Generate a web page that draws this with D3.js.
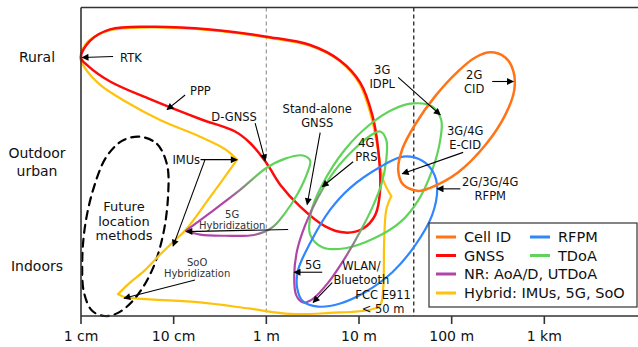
<!DOCTYPE html>
<html><head><meta charset="utf-8">
<script src="https://cdn.jsdelivr.net/npm/d3@7"></script>
<style>body{margin:0;background:#fff}svg{display:block;font-family:"DejaVu Sans",Verdana,sans-serif}</style>
</head><body><svg id="c" width="638" height="347"></svg>
<script>
// ---------- data ----------
const xTicks = [0.01, 0.1, 1, 10, 100, 1000];           // metres
const xTickLabels = ["1 cm", "10 cm", "1 m", "10 m", "100 m", "1 km"];
const yLevels = [0, 1, 2];                                // environment index
const yLevelLabels = [["Indoors"], ["Outdoor", "urban"], ["Rural"]];
const oneMetre = 1;
const fccLimit = 39;

// shapes: [distance in metres, environment index]
const gnssShape = [[0.01,2.0],[0.0125,2.16],[0.0206,2.27],[0.0556,2.295],[0.247,2.27],[1.0,2.20],[2.97,2.12],[6.27,1.97],[10.3,1.76],[13.9,1.45],[16.1,1.12],[16.9,0.73],[15.0,0.49],[11.1,0.36],[7.10,0.32],[4.32,0.38],[2.32,0.57],[1.41,0.78],[1.0,0.99],[0.668,1.18],[0.46,1.29],[0.193,1.41],[0.0556,1.60],[0.0206,1.77],[0.0119,1.92]];
const hybridUpper = [[0.484,1.02],[0.359,1.12],[0.193,1.24],[0.0713,1.40],[0.0299,1.58],[0.016,1.74],[0.011,1.90],[0.0098,2.0],[0.0119,2.155],[0.0206,2.262],[0.0556,2.288],[0.247,2.263],[1.0,2.193],[2.97,2.113],[6.27,1.962],[10.1,1.75],[13.4,1.45],[16.0,1.12],[18.2,0.83],[22.3,0.67]];
const hybridLower = [[22.3,0.67],[19.7,0.54],[18.7,0.25],[18.2,-0.23],[16.9,-0.375],[13.2,-0.42],[4.89,-0.45],[1.81,-0.46],[0.668,-0.41],[0.193,-0.35],[0.0556,-0.32],[0.0299,-0.30],[0.0251,-0.27]];
const hybridInner = [[0.0251,-0.27],[0.0338,-0.16],[0.0491,-0.04],[0.0713,0.11],[0.0986,0.23],[0.136,0.35],[0.247,0.66],[0.484,1.02]];
const cellIdShape = [[261,2.05],[379,2.0],[463,1.87],[474,1.69],[379,1.45],[231,1.16],[118,0.90],[58.7,0.75],[43.6,0.72],[30.0,0.78],[26.5,0.92],[29.3,1.12],[40.5,1.36],[66.5,1.63],[118,1.87],[180,2.0]];
const rfpmShape = [[30.0,1.05],[48.1,1.01],[63.2,0.90],[69.8,0.75],[61.7,0.49],[40.5,0.20],[22.9,-0.06],[11.7,-0.25],[6.27,-0.36],[3.62,-0.39],[2.49,-0.34],[2.15,-0.21],[2.20,-0.04],[2.97,0.22],[4.89,0.54],[8.04,0.75],[16.9,0.95]];
const tdoaShape = [[38.5,1.56],[61.7,1.53],[77.2,1.40],[75.3,1.21],[61.7,0.92],[43.6,0.63],[27.9,0.42],[15.0,0.27],[7.10,0.17],[4.01,0.18],[2.97,0.30],[3.05,0.52],[4.01,0.78],[7.10,1.12],[13.2,1.36],[22.9,1.50]];
const nrTdoaShape = [[16.9,1.29],[19.7,1.21],[19.7,1.02],[17.4,0.78],[13.9,0.56],[10.3,0.33],[7.10,0.08],[4.65,-0.16],[3.13,-0.32],[2.49,-0.35],[2.10,-0.28],[2.0,-0.09],[2.15,0.15],[2.62,0.39],[3.62,0.66],[5.53,0.92],[9.10,1.13],[13.2,1.25]];
const fiveGHybridLoop = [[0.136,0.34],[0.247,0.51],[0.521,0.73],[1.0,0.94],[1.60,1.03],[2.49,1.06],[2.97,1.01],[2.76,0.89],[2.20,0.70],[1.60,0.51],[1.16,0.37],[0.757,0.30],[0.359,0.29],[0.193,0.30],[0.136,0.34]];
const futureShape = [[0.0434,1.24],[0.0662,1.17],[0.0849,0.97],[0.0871,0.68],[0.0769,0.30],[0.0585,-0.04],[0.0383,-0.31],[0.0251,-0.45],[0.0182,-0.48],[0.0132,-0.43],[0.0108,-0.26],[0.0103,0.01],[0.011,0.37],[0.0135,0.73],[0.0186,1.04],[0.0277,1.20]];

// annotations: text block centre, arrows from -> to
const annotations = [
  {lines:["RTK"], at:[0.0264,2.0], anchor:"start", arrows:[[[0.0222,2.01],[0.0103,2.0]]]},
  {lines:["PPP"], at:[0.150,1.68], anchor:"start", arrows:[[[0.133,1.64],[0.0849,1.50]]]},
  {lines:["D-GNSS"], at:[0.449,1.43], arrows:[[[0.757,1.37],[0.971,1.01]]]},
  {lines:["Stand-alone","GNSS"], at:[3.54,1.44], arrows:[[[3.81,1.28],[2.76,0.59]]]},
  {lines:["4G","PRS"], at:[12.0,1.115], arrows:[[[8.65,1.0],[4.01,0.76]]]},
  {lines:["3G","IDPL"], at:[17.8,1.81], arrows:[[[26.5,1.81],[75.3,1.45]]]},
  {lines:["2G","CID"], at:[175,1.765], arrows:[[[274,1.77],[463,1.77]]]},
  {lines:["3G/4G","E-CID"], at:[140,1.226], arrows:[[[133,1.09],[29.3,0.885]]]},
  {lines:["2G/3G/4G","RFPM"], at:[261,0.74], arrows:[[[124,0.74],[69.8,0.74]]]},
  {lines:["IMUs"], at:[0.193,1.02], anchor:"end", arrows:[[[0.195,1.02],[0.484,1.02]],[[0.218,1.02],[0.0986,0.19]]]},
  {lines:["5G","Hybridization"], at:[0.428,0.4375], small:true, arrows:[[[1.72,0.35],[0.136,0.33]]]},
  {lines:["SoO","Hybridization"], at:[0.179,-0.024], small:true, arrows:[[[0.170,-0.135],[0.0291,-0.31]]]},
  {lines:["5G"], at:[3.20,0.01], arrows:[[[4.01,-0.06],[2.0,-0.06]]]},
  {lines:["WLAN/","Bluetooth"], at:[10.6,-0.0625], arrows:[[[5.14,-0.16],[3.20,-0.35]]]},
  {lines:["FCC E911","< 50 m"], at:[18.2,-0.35], arrows:[]},
  {lines:["Future","location","methods"], at:[0.0291,0.428], big:true, arrows:[]}
];

const legendNames = ["Cell ID","GNSS","NR: AoA/D, UTDoA","Hybrid: IMUs, 5G, SoO","RFPM","TDoA"];
const legendColors = ["#ff7417","#ff0a0a","#b045a8","#ffc20a","#2f86ff","#5fd35a"];

// ---------- drawing ----------
const svg = d3.select("#c");
const x = d3.scaleLog().domain([0.01, 10000]).range([81, 637]);
const y = d3.scaleLinear().domain([-0.48, 2.48]).range([316, 7.5]);
const C = {cell:legendColors[0], gnss:legendColors[1], nr:legendColors[2], hyb:legendColors[3], rfpm:legendColors[4], tdoa:legendColors[5]};

const defs = svg.append("defs");
defs.append("marker").attr("id","ah").attr("viewBox","0 0 10 10").attr("refX",9).attr("refY",5)
  .attr("markerWidth",9).attr("markerHeight",7).attr("markerUnits","userSpaceOnUse").attr("orient","auto")
  .append("path").attr("d","M0,0 L10,5 L0,10 z").attr("fill","#000");

function grad(id, pts, dir, s0, s1) {
  const P = pts.map(d => [x(d[0]), y(d[1])]);
  const n = Math.hypot(dir[0], dir[1]); const u = [dir[0]/n, dir[1]/n];
  const pr = P.map(p => p[0]*u[0] + p[1]*u[1]);
  const [mn, mx] = d3.extent(pr);
  const c = [d3.mean(P, p=>p[0]), d3.mean(P, p=>p[1])];
  const sc = c[0]*u[0] + c[1]*u[1];
  const g = defs.append("linearGradient").attr("id", id).attr("gradientUnits","userSpaceOnUse")
    .attr("x1", c[0] + u[0]*(mn-sc)).attr("y1", c[1] + u[1]*(mn-sc))
    .attr("x2", c[0] + u[0]*(mx-sc)).attr("y2", c[1] + u[1]*(mx-sc));
  g.append("stop").attr("offset", s0).attr("stop-color", C.nr);
  g.append("stop").attr("offset", s1).attr("stop-color", C.tdoa);
}
grad("gNarrow", nrTdoaShape, [1,-1], 0.32, 0.6);
grad("gLoop", fiveGHybridLoop, [1,-0.58], 0.35, 0.66);

// reference lines
svg.append("line").attr("x1", x(oneMetre)).attr("x2", x(oneMetre)).attr("y1", y.range()[1]).attr("y2", y.range()[0])
  .attr("stroke","#999").attr("stroke-width",1.2).attr("stroke-dasharray","4,3");
svg.append("line").attr("x1", x(fccLimit)).attr("x2", x(fccLimit)).attr("y1", y.range()[1]).attr("y2", y.range()[0])
  .attr("stroke","#111").attr("stroke-width",1.2).attr("stroke-dasharray","4,3");

const closed = d3.line().x(d=>x(d[0])).y(d=>y(d[1])).curve(d3.curveCatmullRomClosed.alpha(0.5));
const open = d3.line().x(d=>x(d[0])).y(d=>y(d[1])).curve(d3.curveCatmullRom.alpha(0.5));
const g = svg.append("g").attr("fill","none").attr("stroke-linejoin","round").attr("stroke-linecap","round");

g.append("path").attr("d", closed(futureShape)).attr("stroke","#000").attr("stroke-width",2.2).attr("stroke-dasharray","8,6");
[hybridUpper, hybridLower, hybridInner].forEach(s => g.append("path").attr("d", open(s)).attr("stroke", C.hyb).attr("stroke-width",2.2));
g.append("path").attr("d", closed(gnssShape)).attr("stroke", C.gnss).attr("stroke-width",2.5);
g.append("path").attr("d", closed(tdoaShape)).attr("stroke", C.tdoa).attr("stroke-width",2.2);
g.append("path").attr("d", closed(nrTdoaShape)).attr("stroke", "url(#gNarrow)").attr("stroke-width",2.2);
g.append("path").attr("d", open(fiveGHybridLoop)).attr("stroke", "url(#gLoop)").attr("stroke-width",2.2);
g.append("path").attr("d", closed(rfpmShape)).attr("stroke", C.rfpm).attr("stroke-width",2.2);
g.append("path").attr("d", closed(cellIdShape)).attr("stroke", C.cell).attr("stroke-width",2.5);

// annotations
annotations.forEach(a => {
  const fs = a.small ? 10 : a.big ? 13 : 11.5;
  const lh = a.small ? 11 : a.big ? 14.5 : 14;
  const cx = x(a.at[0]), cy = y(a.at[1]);
  const t = svg.append("text").attr("font-size", fs).attr("fill", a.small ? "#333" : "#111")
    .attr("text-anchor", a.anchor || "middle");
  a.lines.forEach((l, i) => t.append("tspan").attr("x", cx)
    .attr("y", cy + (i - (a.lines.length-1)/2)*lh).attr("dy","0.35em").text(l));
  a.arrows.forEach(ar => svg.append("line")
    .attr("x1", x(ar[0][0])).attr("y1", y(ar[0][1])).attr("x2", x(ar[1][0])).attr("y2", y(ar[1][1]))
    .attr("stroke","#000").attr("stroke-width",1.1).attr("marker-end","url(#ah)"));
});

// axes
const ax = svg.append("g").attr("stroke","#333").attr("stroke-width",1.6);
ax.append("line").attr("x1", x.range()[0]).attr("x2", x.range()[0]).attr("y1", y.range()[1]).attr("y2", y.range()[0]);
ax.append("line").attr("x1", x.range()[0]).attr("x2", 638).attr("y1", y.range()[0]).attr("y2", y.range()[0]);
ax.append("line").attr("x1", x.range()[0]).attr("x2", 638).attr("y1", y.range()[1]).attr("y2", y.range()[1]);
xTicks.forEach((v, i) => {
  ax.append("line").attr("x1", x(v)).attr("x2", x(v)).attr("y1", y.range()[0]).attr("y2", y.range()[0] + 8);
  svg.append("text").attr("x", x(v)).attr("y", 341).attr("text-anchor","middle").attr("font-size",14).attr("fill","#111").text(xTickLabels[i]);
});
yLevels.forEach((v, i) => {
  const t = svg.append("text").attr("text-anchor","middle").attr("font-size",14).attr("fill","#111");
  const L = yLevelLabels[i];
  L.forEach((l, j) => t.append("tspan").attr("x", 37).attr("y", y(v) + (j - (L.length-1)/2)*18).attr("dy","0.35em").text(l));
});

// legend
const lg = svg.append("g");
lg.append("rect").attr("x",429).attr("y",223).attr("width",208).attr("height",84).attr("fill","#fff").attr("stroke","#333").attr("stroke-width",1.2);
const pos = [[436,237],[436,255.5],[436,274],[436,293],[530,237],[530,255.5]];
legendNames.forEach((n, i) => {
  const [lx, ly] = pos[i];
  lg.append("line").attr("x1", lx).attr("x2", lx+20).attr("y1", ly).attr("y2", ly).attr("stroke", legendColors[i]).attr("stroke-width",3);
  lg.append("text").attr("x", lx+28).attr("y", ly).attr("dy","0.36em").attr("font-size",14.5).attr("fill","#111").text(n);
});
</script></body></html>
